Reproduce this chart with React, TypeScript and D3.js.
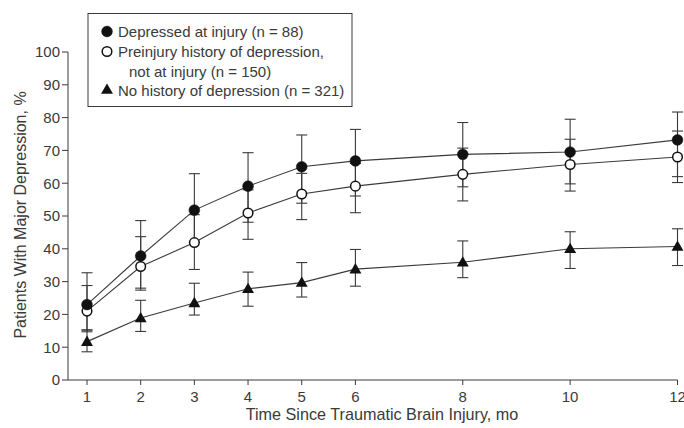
import React from "react";
import * as d3 from "d3";

const months = [1, 2, 3, 4, 5, 6, 8, 10, 12];
const xTicks = [1, 2, 3, 4, 5, 6, 8, 10, 12];
const yTicks = [0, 10, 20, 30, 40, 50, 60, 70, 80, 90, 100];

const depressed = [23, 37.8, 51.8, 59.1, 65, 66.8, 68.8, 69.5, 73.2];
const depressedLow = [15.2, 28, 42, 48.1, 53.9, 56.1, 58.9, 59.8, 62];
const depressedHigh = [32.7, 48.6, 62.9, 69.3, 74.7, 76.4, 78.5, 79.5, 81.7];

const preinjury = [21, 34.6, 41.9, 50.9, 56.7, 59.1, 62.7, 65.7, 68];
const preinjuryLow = [14.7, 27.4, 33.7, 42.9, 48.9, 51, 54.6, 57.6, 60.2];
const preinjuryHigh = [28.8, 43.7, 50.4, 58, 63, 66, 70.7, 73.4, 75.9];

const noHistory = [11.7, 18.9, 23.5, 27.8, 29.7, 33.8, 35.9, 40, 40.7];
const noHistoryLow = [8.6, 14.8, 19.8, 22.5, 25.3, 28.6, 31.2, 34, 34.9];
const noHistoryHigh = [15.3, 24.3, 29.5, 32.9, 35.8, 39.8, 42.4, 45.2, 46.1];

const legendLabels = [
  "Depressed at injury (n = 88)",
  "Preinjury history of depression,",
  "not at injury (n = 150)",
  "No history of depression (n = 321)",
];

const FONT = "'Liberation Sans', Arial, Helvetica, sans-serif";
const INK = "#3a3a3a";

export default function App() {
  const W = 684;
  const H = 428;
  const x = d3.scaleLinear().domain([1, 12]).range([87, 677.5]);
  const y = d3.scaleLinear().domain([0, 100]).range([380, 52]);
  const x0 = x.invert(68);

  const line = d3
    .line<number>()
    .x((_, i) => x(months[i]))
    .y((v) => y(v));

  const series = [
    { key: "nh", v: noHistory, lo: noHistoryLow, hi: noHistoryHigh, type: "tri" },
    { key: "pre", v: preinjury, lo: preinjuryLow, hi: preinjuryHigh, type: "open" },
    { key: "dep", v: depressed, lo: depressedLow, hi: depressedHigh, type: "filled" },
  ];

  const tri = d3.symbol().type(d3.symbolTriangle).size(62)() as string;
  const capW = 5.5;

  const marker = (type: string, cx: number, cy: number, k: string) => {
    if (type === "filled")
      return <circle key={k} cx={cx} cy={cy} r={5.4} fill="#111" stroke="#111" strokeWidth={0.5} />;
    if (type === "open")
      return <circle key={k} cx={cx} cy={cy} r={4.8} fill="#fff" stroke="#111" strokeWidth={1.5} />;
    return <path key={k} d={tri} transform={`translate(${cx},${cy + 0.8})`} fill="#111" />;
  };

  return (
    <svg width={W} height={H} style={{ position: "absolute", left: 0, top: 0 }} fontFamily={FONT}>
      <rect width={W} height={H} fill="#fff" />
      {/* axes */}
      <line x1={x(x0)} x2={x(12)} y1={380} y2={380} stroke={INK} strokeWidth={1} />
      <line x1={68} x2={68} y1={y(100)} y2={380} stroke={INK} strokeWidth={1} />
      {yTicks.map((t) => (
        <g key={"y" + t}>
          <line x1={62} x2={68} y1={y(t)} y2={y(t)} stroke={INK} strokeWidth={1} />
          <text x={60} y={y(t)} dy="0.36em" textAnchor="end" fontSize={15} fill={INK}>
            {t}
          </text>
        </g>
      ))}
      {xTicks.map((t) => (
        <g key={"x" + t}>
          <line x1={x(t)} x2={x(t)} y1={380} y2={385} stroke={INK} strokeWidth={1} />
          <text x={x(t)} y={402} textAnchor="middle" fontSize={15} fill={INK}>
            {t}
          </text>
        </g>
      ))}
      <text x={382} y={420} textAnchor="middle" fontSize={16.2} fill={INK}>
        Time Since Traumatic Brain Injury, mo
      </text>
      <text
        transform={`translate(26,215) rotate(-90)`}
        textAnchor="middle"
        fontSize={16}
        fill={INK}
      >
        Patients With Major Depression, %
      </text>

      {/* error bars */}
      {series.map((s) =>
        months.map((m, i) => (
          <g key={s.key + "e" + i} stroke={INK} strokeWidth={1.1}>
            <line x1={x(m)} x2={x(m)} y1={y(s.lo[i])} y2={y(s.hi[i])} />
            <line x1={x(m) - capW} x2={x(m) + capW} y1={y(s.lo[i])} y2={y(s.lo[i])} />
            <line x1={x(m) - capW} x2={x(m) + capW} y1={y(s.hi[i])} y2={y(s.hi[i])} />
          </g>
        ))
      )}
      {/* lines */}
      {series.map((s) => (
        <path key={s.key + "l"} d={line(s.v) as string} fill="none" stroke={INK} strokeWidth={1.1} />
      ))}
      {/* markers */}
      {series.map((s) => months.map((m, i) => marker(s.type, x(m), y(s.v[i]), s.key + "m" + i)))}

      {/* legend */}
      <rect x={88} y={13.5} width={264} height={93} fill="#fff" stroke={INK} strokeWidth={1} />
      {marker("filled", 107, 31.5, "lg1")}
      <text x={118} y={37} fontSize={15} fill={INK}>{legendLabels[0]}</text>
      {marker("open", 107, 51.5, "lg2")}
      <text x={118} y={57} fontSize={15} fill={INK}>{legendLabels[1]}</text>
      <text x={129} y={76.5} fontSize={15} fill={INK}>{legendLabels[2]}</text>
      {marker("tri", 107, 89.5, "lg3")}
      <text x={118} y={95.5} fontSize={15} fill={INK}>{legendLabels[3]}</text>
    </svg>
  );
}
